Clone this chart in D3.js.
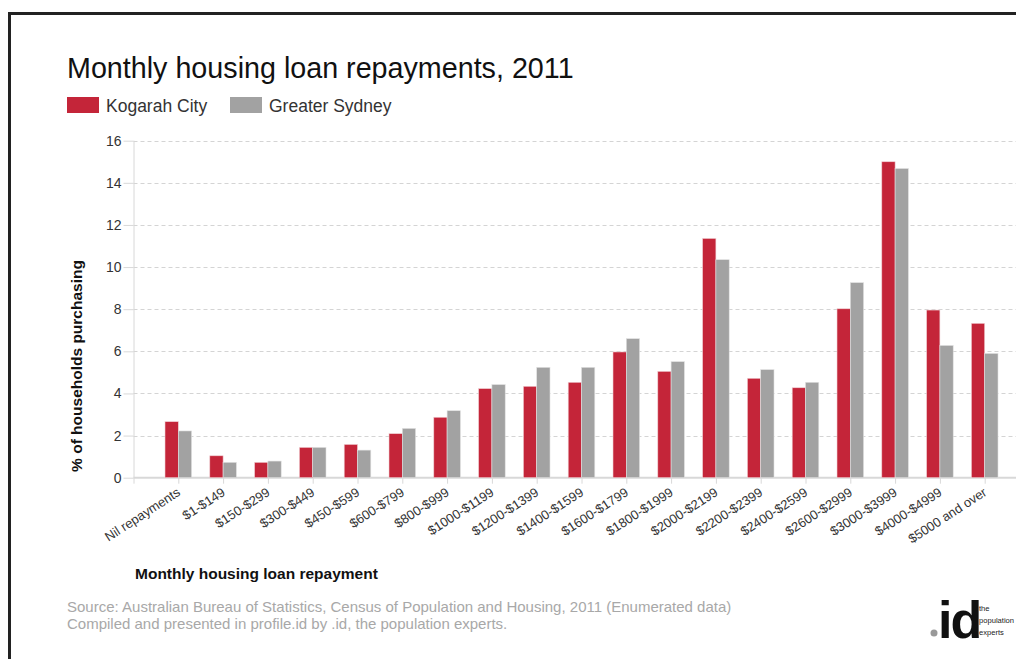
<!DOCTYPE html>
<html>
<head>
<meta charset="utf-8">
<script src="https://cdn.jsdelivr.net/npm/d3@7"></script>
<style>
  html, body { margin: 0; padding: 0; background: #fff; }
  svg { display: block; font-family: "Liberation Sans", Arial, sans-serif; }
</style>
</head>
<body>
<svg id="chart" width="1016" height="659"></svg>
<script>
// Monthly housing loan repayment bands
const categories = [
  "Nil repayments", "$1-$149", "$150-$299", "$300-$449", "$450-$599",
  "$600-$799", "$800-$999", "$1000-$1199", "$1200-$1399", "$1400-$1599",
  "$1600-$1799", "$1800-$1999", "$2000-$2199", "$2200-$2399", "$2400-$2599",
  "$2600-$2999", "$3000-$3999", "$4000-$4999", "$5000 and over"
];
// % of households purchasing
const kogarah = [2.66, 1.04, 0.73, 1.44, 1.58, 2.09, 2.87, 4.23, 4.34, 4.53,
                 5.97, 5.05, 11.36, 4.72, 4.27, 8.02, 15.0, 7.96, 7.33];
const sydney  = [2.22, 0.73, 0.79, 1.44, 1.31, 2.34, 3.18, 4.42, 5.24, 5.24,
                 6.60, 5.51, 10.35, 5.13, 4.53, 9.26, 14.68, 6.28, 5.90];
const seriesNames = ["Kogarah City", "Greater Sydney"];
const yTicks = [0, 2, 4, 6, 8, 10, 12, 14, 16];

const RED = "#c42539", GREY = "#a2a2a2";
const svg = d3.select("#chart");

// outer frame
svg.append("rect").attr("x", 9.5).attr("y", 13.5).attr("width", 1030).attr("height", 700)
  .attr("fill", "none").attr("stroke", "#222").attr("stroke-width", 3);

// title
svg.append("text").attr("x", 67).attr("y", 78).attr("font-size", 28.7).attr("fill", "#111")
  .text("Monthly housing loan repayments, 2011");

// legend
const legend = svg.append("g");
[[67, RED, seriesNames[0]], [230, GREY, seriesNames[1]]].forEach(([x, c, t]) => {
  legend.append("rect").attr("x", x).attr("y", 97).attr("width", 32).attr("height", 16).attr("fill", c);
  legend.append("text").attr("x", x + 39).attr("y", 111.5).attr("font-size", 17.5).attr("fill", "#333").text(t);
});

// scales
const plotLeft = 133.5, plotTop = 140.7, plotBottom = 477.7;
const x = d3.scalePoint().domain(categories).range([plotLeft, plotLeft + 20 * 44.8]).padding(1);
const y = d3.scaleLinear().domain([0, 16]).range([plotBottom, plotTop]);

// gridlines
svg.append("g").selectAll("line").data(yTicks.filter(d => d > 0)).join("line")
  .attr("x1", plotLeft).attr("x2", 1030)
  .attr("y1", d => Math.round(y(d)) + 0.5).attr("y2", d => Math.round(y(d)) + 0.5)
  .attr("stroke", "#d4d4d4").attr("stroke-dasharray", "4,3");

// y axis
const yAxis = svg.append("g").attr("transform", `translate(${plotLeft},0)`)
  .call(d3.axisLeft(y).tickValues(yTicks).tickSize(10).tickPadding(2));
yAxis.select(".domain").attr("stroke", "#d8d8d8").attr("d", `M0.5,${plotTop}V${plotBottom + 6}`);
yAxis.selectAll(".tick line").attr("stroke", "#d8d8d8");
yAxis.selectAll(".tick text").attr("font-size", 14).attr("fill", "#333")
  .attr("font-family", "Liberation Sans, Arial, sans-serif");

// x axis
const xAxis = svg.append("g").attr("transform", `translate(0,${plotBottom})`)
  .call(d3.axisBottom(x).tickSize(6).tickPadding(4));
xAxis.select(".domain").attr("stroke", "#d8d8d8").attr("stroke-width", 2)
  .attr("d", `M${plotLeft},0H1030`);
xAxis.selectAll(".tick line").attr("stroke", "#d8d8d8");
xAxis.selectAll(".tick text")
  .attr("font-size", 13).attr("fill", "#333").attr("font-family", "Liberation Sans, Arial, sans-serif")
  .attr("text-anchor", "end").attr("dy", "0.35em")
  .attr("transform", "translate(0,13) rotate(-33)").attr("y", 0).attr("x", 0);

// bars
const bw = 13.3;
const bars = svg.append("g");
bars.selectAll("rect.k").data(categories).join("rect").attr("class", "k")
  .attr("x", d => x(d) - bw).attr("width", bw)
  .attr("y", (d, i) => y(kogarah[i])).attr("height", (d, i) => y(0) - y(kogarah[i]))
  .attr("fill", RED).attr("stroke", "#f0d0d4").attr("stroke-width", 0.6);
bars.selectAll("rect.s").data(categories).join("rect").attr("class", "s")
  .attr("x", d => x(d)).attr("width", bw)
  .attr("y", (d, i) => y(sydney[i])).attr("height", (d, i) => y(0) - y(sydney[i]))
  .attr("fill", GREY).attr("stroke", "#e2e2e2").attr("stroke-width", 0.6);

// axis titles
svg.append("text").attr("transform", `translate(82,366) rotate(-90)`)
  .attr("text-anchor", "middle").attr("font-size", 15.5).attr("font-weight", "bold").attr("fill", "#111")
  .text("% of households purchasing");
svg.append("text").attr("x", 135).attr("y", 579).attr("font-size", 15.5).attr("font-weight", "bold")
  .attr("fill", "#111").text("Monthly housing loan repayment");

// source
svg.append("text").attr("x", 67).attr("y", 611.5).attr("font-size", 15).attr("fill", "#a8a8a8")
  .text("Source: Australian Bureau of Statistics, Census of Population and Housing, 2011 (Enumerated data)");
svg.append("text").attr("x", 67).attr("y", 628.5).attr("font-size", 15).attr("fill", "#a8a8a8")
  .text("Compiled and presented in profile.id by .id, the population experts.");

// logo
const logo = svg.append("g");
logo.append("circle").attr("cx", 934).attr("cy", 633).attr("r", 3.5).attr("fill", "#999");
logo.append("text").attr("x", 938).attr("y", 638).attr("font-size", 52).attr("font-weight", "bold")
  .attr("letter-spacing", -2).attr("fill", "#111").text("id");
["the", "population", "experts"].forEach((t, i) => {
  logo.append("text").attr("x", 979).attr("y", 611 + i * 12).attr("font-size", 7.6).attr("fill", "#222").text(t);
});
</script>
</body>
</html>
